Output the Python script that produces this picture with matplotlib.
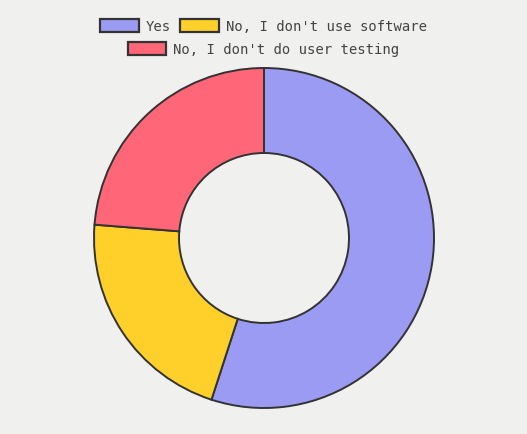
import matplotlib.pyplot as plt
from matplotlib.patches import Patch

# data
labels = ['Yes', "No, I don't use software", "No, I don't do user testing"]
counts = [44, 17, 19]
colors = ['#9b9bf4', '#ffd02a', '#ff6678']

bg = '#f0f0ee'
edge = '#333333'

fig = plt.figure(figsize=(5.27, 4.35), dpi=100, facecolor=bg)
ax = fig.add_axes([94 / 527, 26 / 435, 340 / 527, 340 / 435])
ax.set_facecolor(bg)

ax.pie(counts, colors=colors, startangle=90, counterclock=False, radius=1,
       wedgeprops=dict(width=0.5, edgecolor=edge, linewidth=1.4))
ax.set_xlim(-1, 1)
ax.set_ylim(-1, 1)
ax.set_aspect('equal')
ax.axis('off')

# legend in two centred rows
handles = [Patch(facecolor=c, edgecolor=edge, linewidth=1.6) for c in colors]
common = dict(loc='center', frameon=False, borderpad=0, handlelength=2.8,
              handleheight=1.15, handletextpad=0.5, columnspacing=0.7,
              prop=dict(family='DejaVu Sans Mono', size=10), labelcolor='#444444')
leg1 = fig.legend(handles[:2], labels[:2], ncol=2, bbox_to_anchor=(0.5, 1 - 27 / 435), **common)
leg2 = fig.legend(handles[2:], labels[2:], ncol=1, bbox_to_anchor=(0.5, 1 - 50 / 435), **common)

fig.savefig('out.png', dpi=100, facecolor=bg)
